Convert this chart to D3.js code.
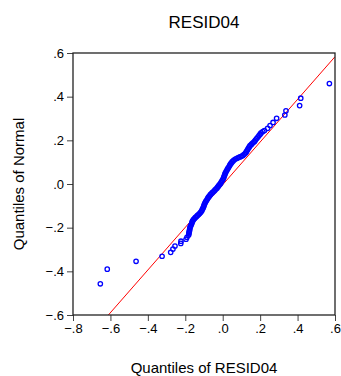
<html lang="en">
  <head>
    <meta charset="UTF-8" />
    <title>RESID04 Q-Q plot</title>
    <script src="https://d3js.org/d3.v7.min.js"></script>
  </head>
  <style>
    body {
      margin: 0;
      background: #fff;
    }

    svg {
      font-family: "Liberation Sans", Arial, sans-serif;
    }

    .axis text {
      font-size: 13px;
      fill: #000;
    }

    .axis line {
      stroke: #444;
    }

    .axis path {
      display: none;
    }

    circle.pt {
      fill: none;
      stroke: #0000ff;
      stroke-width: 1.3px;
    }
  </style>
  <body>
    <svg width="341" height="376"></svg>
    <script>
      // sorted residuals (x) against normal quantiles (y)
      var residQ = [
        -0.654, -0.617, -0.463, -0.324, -0.278, -0.266, -0.255, -0.224, -0.223, -0.196, -0.191,
        -0.182, -0.181, -0.18, -0.178, -0.177, -0.176, -0.175, -0.172, -0.169, -0.166,
        -0.164, -0.162, -0.159, -0.155, -0.151, -0.146, -0.14, -0.135, -0.129, -0.124,
        -0.119, -0.115, -0.111, -0.108, -0.105, -0.102, -0.1, -0.097, -0.095, -0.091,
        -0.087, -0.083, -0.079, -0.075, -0.071, -0.067, -0.063, -0.057, -0.052, -0.046,
        -0.041, -0.035, -0.03, -0.026, -0.022, -0.018, -0.014, -0.01, -0.006, -0.002,
        0.002, 0.005, 0.007, 0.01, 0.012, 0.015, 0.018, 0.022, 0.026, 0.03,
        0.034, 0.038, 0.042, 0.046, 0.05, 0.055, 0.06, 0.068, 0.076, 0.084,
        0.092, 0.1, 0.108, 0.115, 0.122, 0.126, 0.13, 0.134, 0.138, 0.142,
        0.146, 0.152, 0.157, 0.163, 0.17, 0.175, 0.181, 0.188, 0.194, 0.2,
        0.205, 0.214, 0.223,
        0.24, 0.253, 0.269, 0.288, 0.332, 0.338, 0.411, 0.417, 0.57
      ];
      var normalQ = [
        -0.457, -0.39, -0.354, -0.331, -0.313, -0.298, -0.284, -0.272, -0.262, -0.253, -0.244,
        -0.234, -0.228, -0.222, -0.216, -0.211, -0.205, -0.199, -0.193, -0.188, -0.182,
        -0.176, -0.171, -0.167, -0.162, -0.158, -0.153, -0.149, -0.144, -0.14, -0.135,
        -0.131, -0.126, -0.121, -0.115, -0.11, -0.104, -0.098, -0.092, -0.087, -0.081,
        -0.076, -0.07, -0.064, -0.059, -0.055, -0.05, -0.046, -0.041, -0.037, -0.032,
        -0.027, -0.022, -0.018, -0.013, -0.009, -0.004, 0.0, 0.005, 0.011, 0.017,
        0.023, 0.028, 0.034, 0.04, 0.046, 0.051, 0.057, 0.063, 0.069, 0.074,
        0.08, 0.086, 0.092, 0.096, 0.101, 0.105, 0.11, 0.114, 0.118, 0.121,
        0.124, 0.127, 0.131, 0.136, 0.142, 0.147, 0.153, 0.159, 0.165, 0.17,
        0.176, 0.18, 0.185, 0.19, 0.195, 0.201, 0.208, 0.215, 0.222, 0.228,
        0.234, 0.24, 0.245,
        0.255, 0.268, 0.282, 0.301, 0.316, 0.335, 0.359, 0.393, 0.46
      ];
      // reference line end points
      var refX = [-0.611, 0.6];
      var refY = [-0.6, 0.583];

      var xTicks = [-0.8, -0.6, -0.4, -0.2, 0, 0.2, 0.4, 0.6];
      var yTicks = [-0.6, -0.4, -0.2, 0, 0.2, 0.4, 0.6];

      var margin = { left: 73, right: 6, top: 53, bottom: 61 };
      var W = 341, H = 376;
      var svg = d3.select("svg");

      var x = d3
        .scaleLinear()
        .domain([-0.8, 0.6])
        .range([margin.left, W - margin.right]);
      var y = d3
        .scaleLinear()
        .domain([-0.6, 0.6])
        .range([H - margin.bottom, margin.top]);

      function fmt(d) {
        return d3.format(".1f")(d).replace("0.", ".");
      }

      svg
        .append("g")
        .attr("class", "axis")
        .attr("transform", "translate(0," + (H - margin.bottom) + ")")
        .call(
          d3.axisBottom(x).tickValues(xTicks).tickSize(6).tickPadding(3).tickFormat(fmt)
        );

      svg
        .append("g")
        .attr("class", "axis")
        .attr("transform", "translate(" + margin.left + ",0)")
        .call(
          d3.axisLeft(y).tickValues(yTicks).tickSize(6).tickPadding(3).tickFormat(fmt)
        );

      svg
        .append("clipPath")
        .attr("id", "clip")
        .append("rect")
        .attr("x", margin.left)
        .attr("y", margin.top)
        .attr("width", W - margin.left - margin.right)
        .attr("height", H - margin.top - margin.bottom);

      svg
        .append("line")
        .attr("clip-path", "url(#clip)")
        .attr("x1", x(refX[0]))
        .attr("y1", y(refY[0]))
        .attr("x2", x(refX[1]))
        .attr("y2", y(refY[1]))
        .attr("stroke", "#ff0000")
        .attr("stroke-width", 1);

      svg
        .append("g")
        .selectAll("circle")
        .data(residQ)
        .enter()
        .append("circle")
        .attr("class", "pt")
        .attr("cx", function (d) {
          return x(d);
        })
        .attr("cy", function (d, i) {
          return y(normalQ[i]);
        })
        .attr("r", 2.2);

      // frame
      svg
        .append("rect")
        .attr("x", margin.left)
        .attr("y", margin.top)
        .attr("width", W - margin.left - margin.right)
        .attr("height", H - margin.top - margin.bottom)
        .attr("fill", "none")
        .attr("stroke", "#222")
        .attr("stroke-width", 1.3);

      svg
        .append("text")
        .attr("x", (margin.left + W - margin.right) / 2)
        .attr("y", 28)
        .attr("text-anchor", "middle")
        .style("font-size", "17px")
        .text("RESID04");

      svg
        .append("text")
        .attr("x", (margin.left + W - margin.right) / 2)
        .attr("y", 373)
        .attr("text-anchor", "middle")
        .style("font-size", "15px")
        .text("Quantiles of RESID04");

      svg
        .append("text")
        .attr("transform", "translate(24," + (H - margin.bottom + margin.top) / 2 + ") rotate(-90)")
        .attr("text-anchor", "middle")
        .style("font-size", "15px")
        .text("Quantiles of Normal");
    </script>
  </body>
</html>
